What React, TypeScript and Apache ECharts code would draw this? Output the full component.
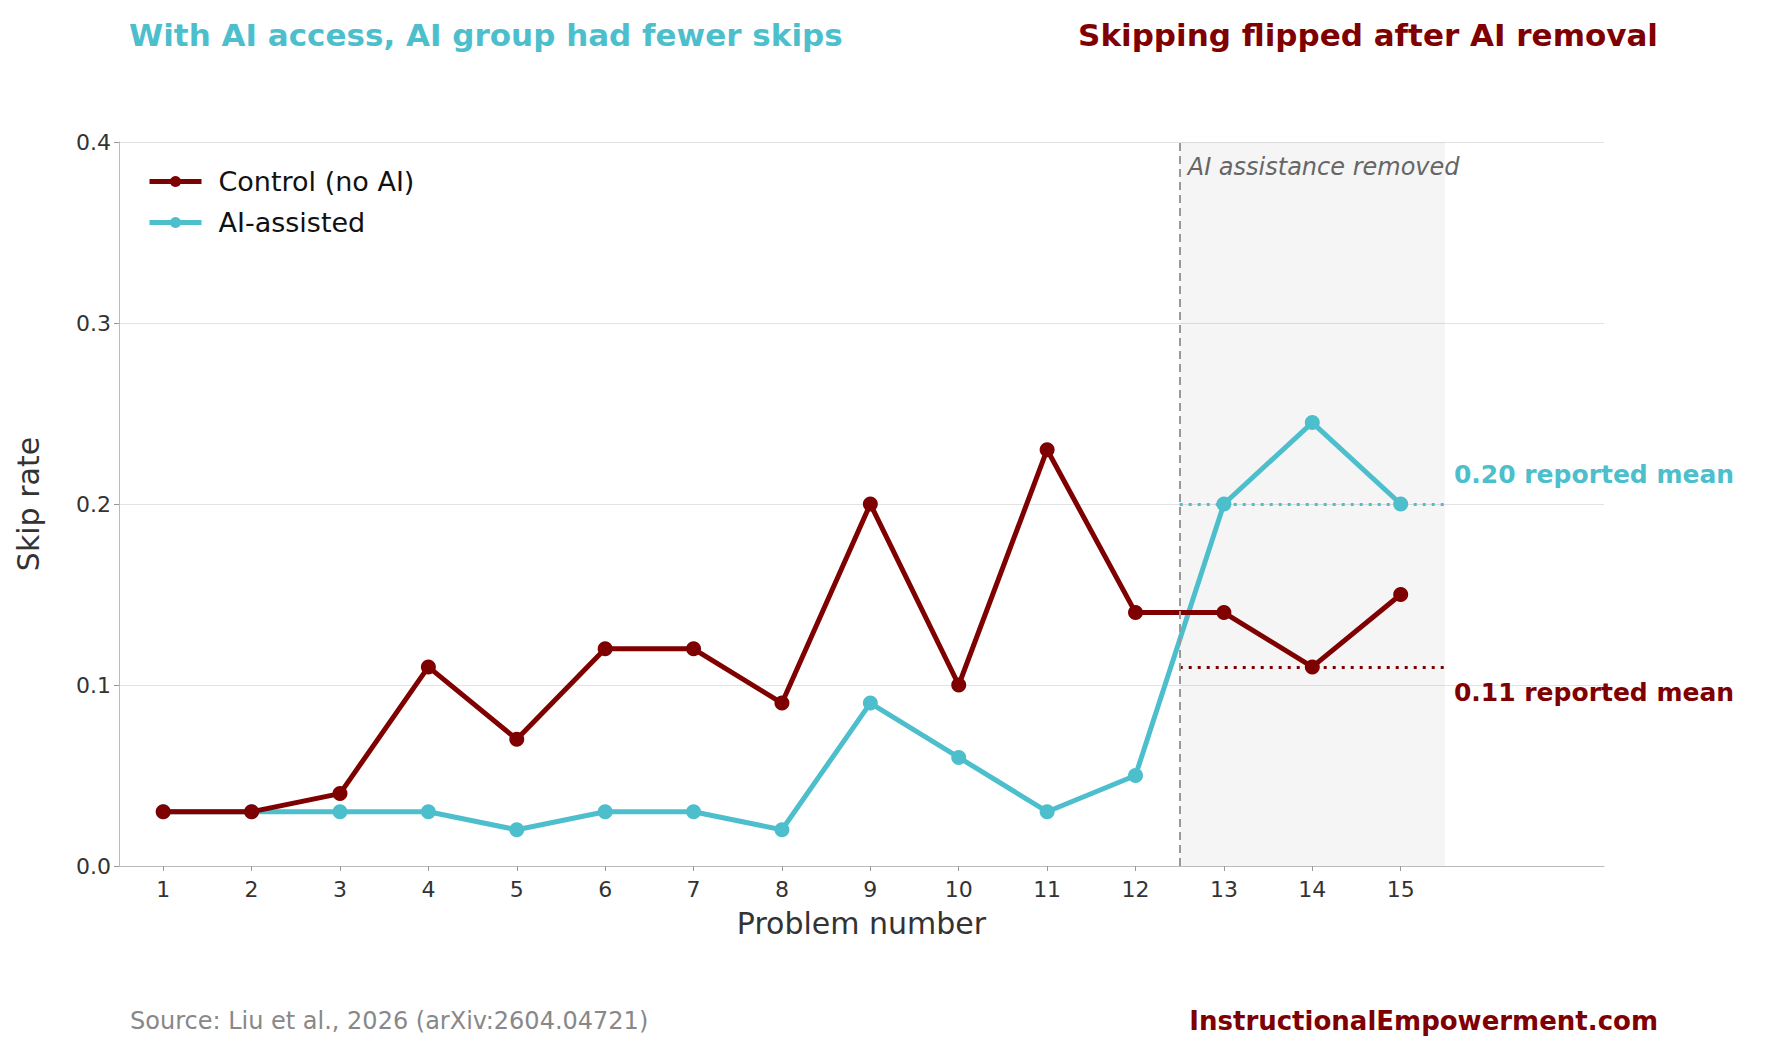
import React, { useEffect, useRef } from 'react';
import * as echarts from 'echarts';

const problems = [1, 2, 3, 4, 5, 6, 7, 8, 9, 10, 11, 12, 13, 14, 15];
const controlRate = [0.03, 0.03, 0.04, 0.11, 0.07, 0.12, 0.12, 0.09, 0.2, 0.1, 0.23, 0.14, 0.14, 0.11, 0.15];
const aiRate = [0.03, 0.03, 0.03, 0.03, 0.02, 0.03, 0.03, 0.02, 0.09, 0.06, 0.03, 0.05, 0.2, 0.245, 0.2];
const yTicks = [0, 0.1, 0.2, 0.3, 0.4];
const removalAt = 12.5;
const postEnd = 15.5;
const controlMean = 0.11;
const aiMean = 0.2;

const RED = '#7f0000';
const CYAN = '#4dbfcc';
const FONT = '"DejaVu Sans", sans-serif';

const App: React.FC = () => {
  const ref = useRef<HTMLDivElement>(null);

  useEffect(() => {
    document.body.style.margin = '0';
    if (!ref.current) return;
    const chart = echarts.init(ref.current, undefined, { renderer: 'svg' });
    chart.setOption({
      animation: false,
      textStyle: { fontFamily: FONT },
      grid: { left: 119, right: 166, top: 142, bottom: 181 },
      title: [
        { text: 'With AI access, AI group had fewer skips', left: 124, top: 14, textStyle: { color: CYAN, fontSize: 31, fontWeight: 'bold', fontFamily: FONT } },
        { text: 'Skipping flipped after AI removal', right: 107, top: 14, textStyle: { color: RED, fontSize: 31, fontWeight: 'bold', fontFamily: FONT } },
        { text: 'Source: Liu et al., 2026 (arXiv:2604.04721)', left: 125, top: 1004, textStyle: { color: '#888', fontSize: 24, fontWeight: 'normal', fontFamily: FONT } },
        { text: 'InstructionalEmpowerment.com', right: 107, top: 1003, textStyle: { color: RED, fontSize: 26, fontWeight: 'bold', fontFamily: FONT } },
      ],
      legend: {
        left: 142, top: 163, orient: 'vertical', itemGap: 14, itemWidth: 52, itemHeight: 14,
        lineStyle: { width: 5 },
        textStyle: { fontSize: 27, color: '#111', fontFamily: FONT, padding: [0, 0, 0, 12] },
        data: ['Control (no AI)', 'AI-assisted'],
      },
      xAxis: {
        type: 'value', min: 0.5, max: 17.3,
        name: 'Problem number', nameLocation: 'middle', nameGap: 42,
        nameTextStyle: { fontSize: 30, color: '#333', fontFamily: FONT },
        axisLine: { lineStyle: { color: '#bbb' } },
        axisTick: { show: true, customValues: problems, lineStyle: { color: '#999' } },
        axisLabel: { customValues: problems, fontSize: 22, color: '#333', margin: 12 },
        splitLine: { show: false },
      },
      yAxis: {
        type: 'value', min: 0, max: 0.4, interval: 0.1,
        name: 'Skip rate', nameLocation: 'middle', nameGap: 76,
        nameTextStyle: { fontSize: 30, color: '#333', fontFamily: FONT },
        axisLine: { show: true, lineStyle: { color: '#bbb' } },
        axisTick: { show: true, lineStyle: { color: '#999' } },
        axisLabel: { fontSize: 22, color: '#333', formatter: (v: number) => v.toFixed(1), customValues: yTicks },
        splitLine: { lineStyle: { color: '#e3e3e3' } },
      },
      series: [
        {
          name: 'Control (no AI)', type: 'line', color: RED, symbol: 'circle', symbolSize: 15,
          lineStyle: { width: 5 }, data: problems.map((p, i) => [p, controlRate[i]]), z: 3,
          markArea: { silent: true, itemStyle: { color: 'rgba(0,0,0,0.04)' }, data: [[{ xAxis: removalAt }, { xAxis: postEnd }]] },
          markLine: {
            silent: true, symbol: 'none',
            data: [
              [
                { coord: [removalAt, controlMean], lineStyle: { color: RED, type: [3, 6], width: 3 },
                  label: { show: true, position: 'end', formatter: '0.11 reported mean', color: RED, fontSize: 25, fontWeight: 'bold', offset: [4, 26] } },
                { coord: [postEnd, controlMean] },
              ],
              [
                { coord: [removalAt, 0], lineStyle: { color: '#999', type: [8, 5], width: 2 },
                  label: { show: true, position: 'end', formatter: 'AI assistance removed', color: '#666', fontSize: 24, fontStyle: 'italic', align: 'left', offset: [8, 42] } },
                { coord: [removalAt, 0.4] },
              ],
            ],
          },
        },
        {
          name: 'AI-assisted', type: 'line', color: CYAN, symbol: 'circle', symbolSize: 15,
          lineStyle: { width: 5 }, data: problems.map((p, i) => [p, aiRate[i]]), z: 2,
          markLine: {
            silent: true, symbol: 'none',
            data: [[
              { coord: [removalAt, aiMean], lineStyle: { color: CYAN, type: [3, 6], width: 3 },
                label: { show: true, position: 'end', formatter: '0.20 reported mean', color: CYAN, fontSize: 25, fontWeight: 'bold', offset: [4, -30] } },
              { coord: [postEnd, aiMean] },
            ]],
          },
        },
      ],
    });
    return () => chart.dispose();
  }, []);

  return <div ref={ref} style={{ width: 1770, height: 1047 }} />;
};

export default App;
